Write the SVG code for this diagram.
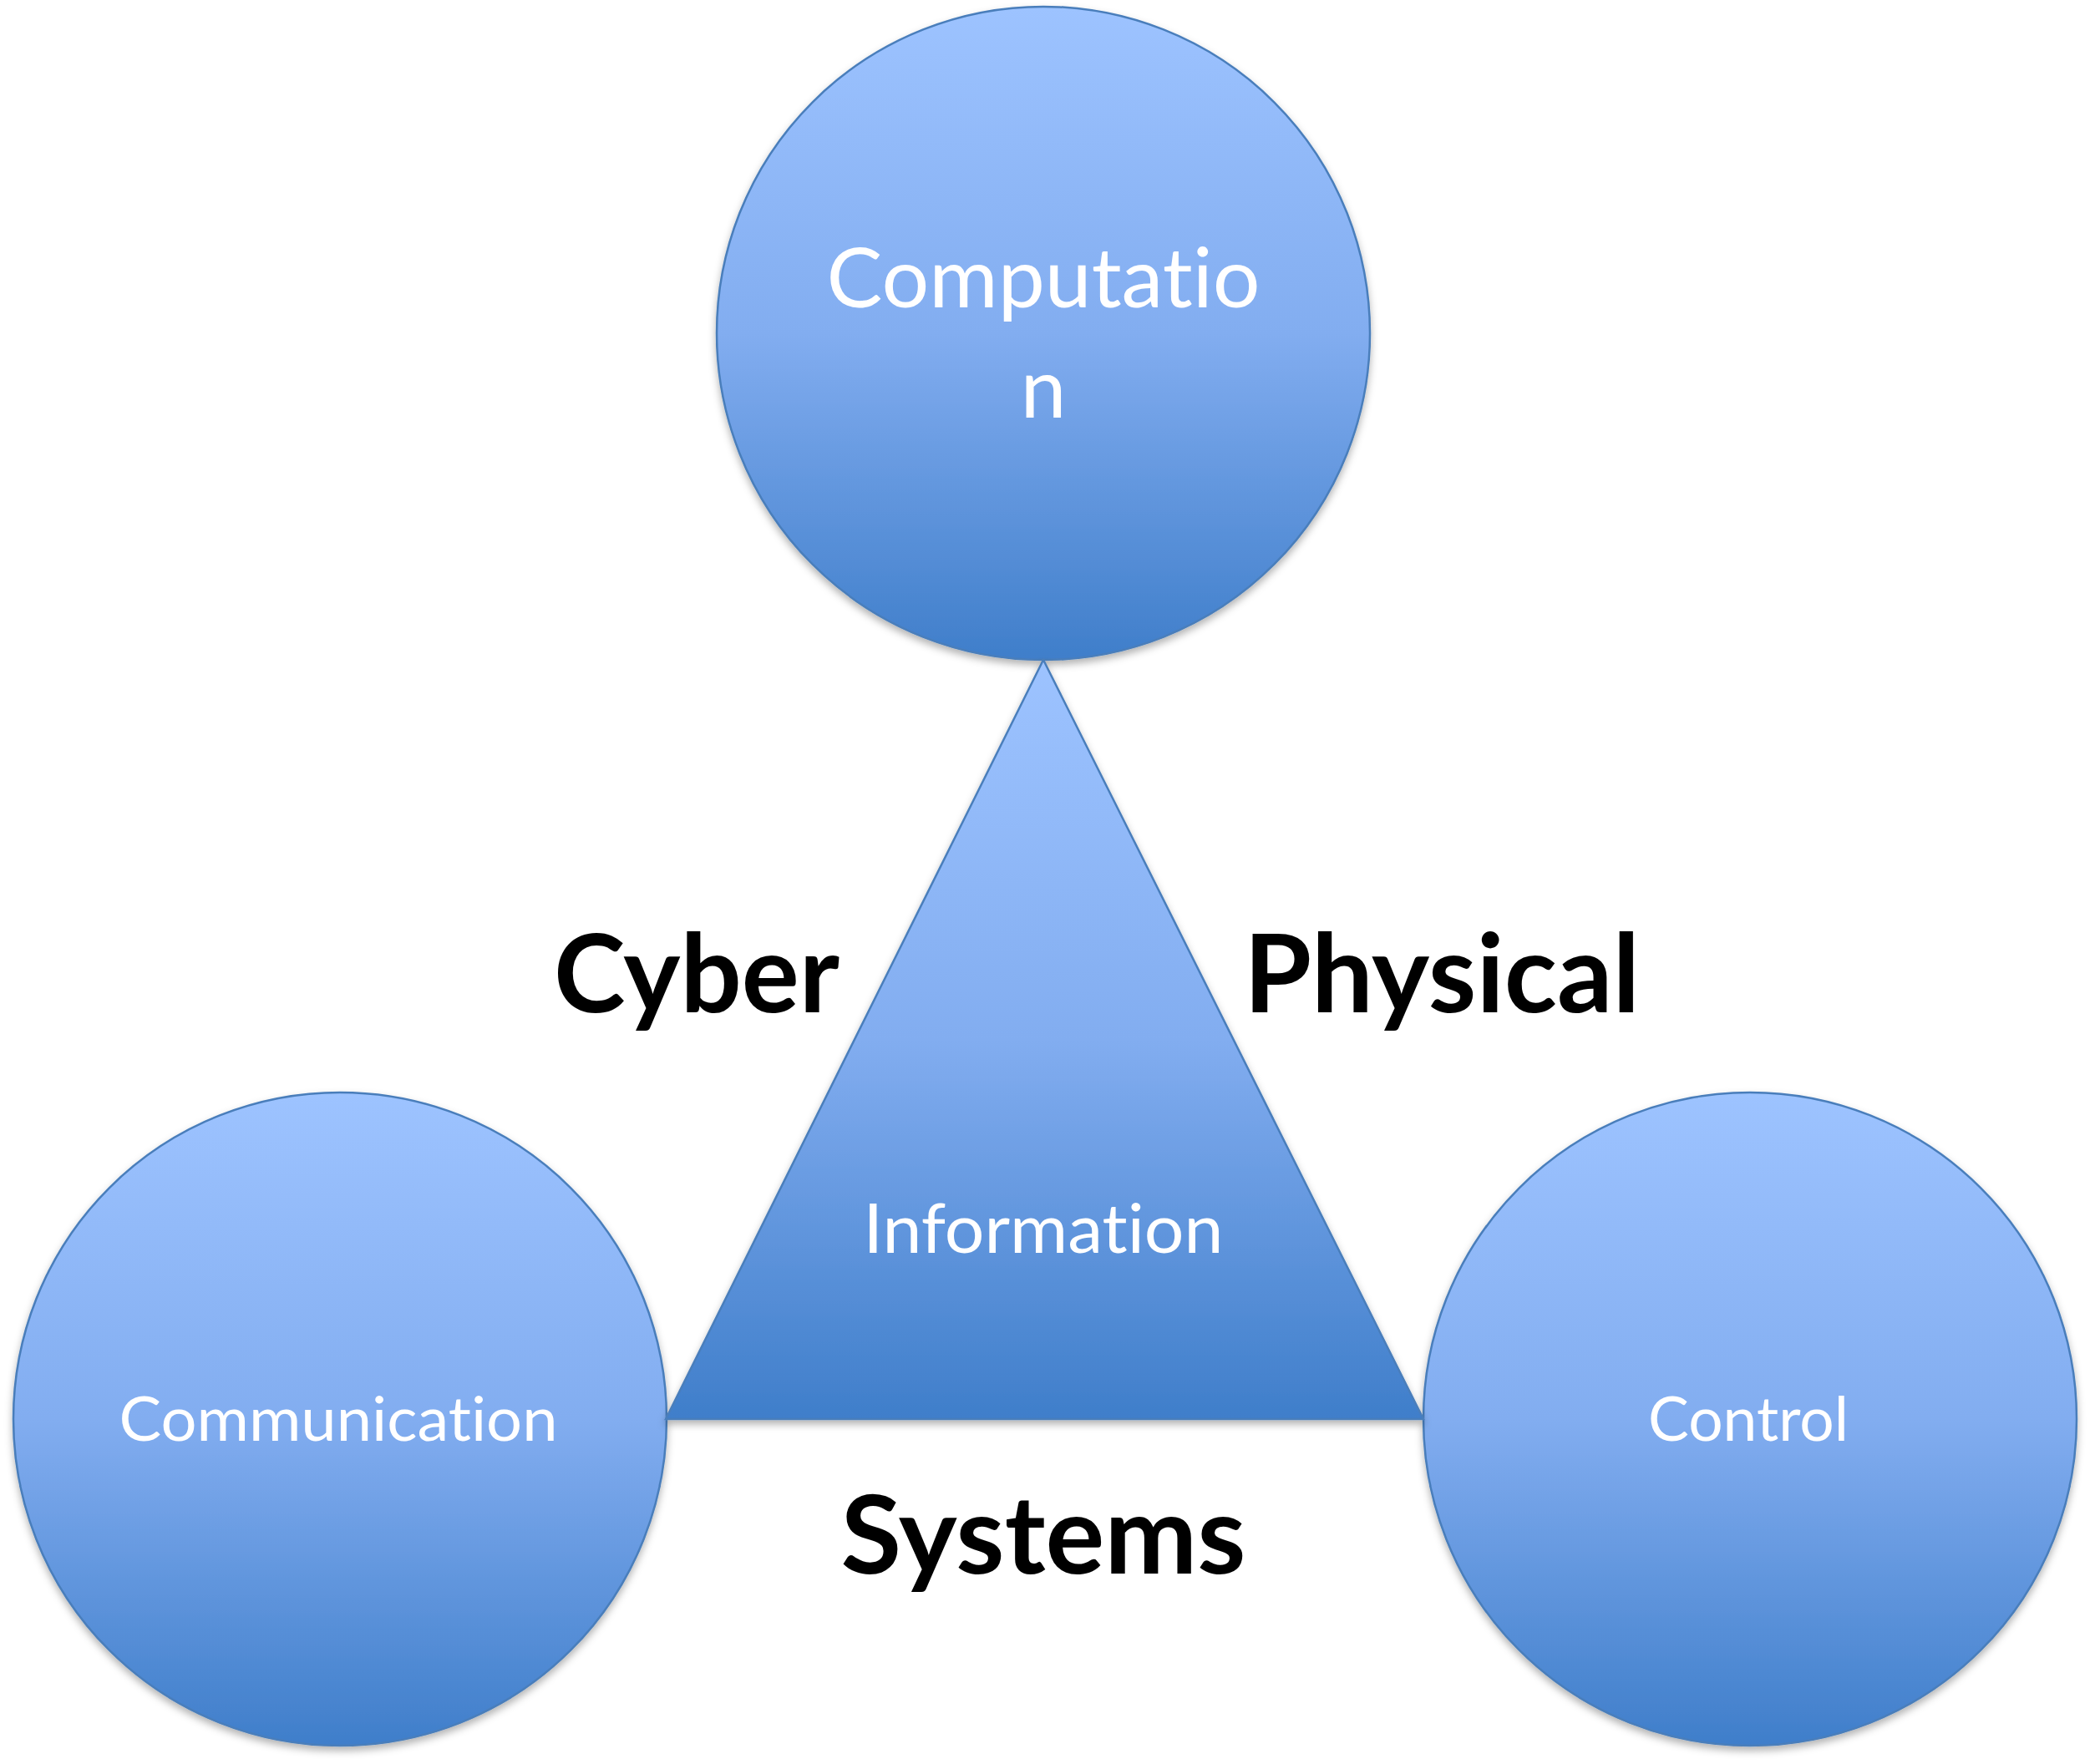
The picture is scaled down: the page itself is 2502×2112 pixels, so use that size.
<svg xmlns="http://www.w3.org/2000/svg" width="2502" height="2112" viewBox="0 0 2502 2112">
<defs>
<linearGradient id="gc" x1="0" y1="0" x2="0" y2="1">
<stop offset="0" stop-color="#9DC3FF"/>
<stop offset="0.5" stop-color="#82ADF0"/>
<stop offset="1" stop-color="#3F7ECA"/>
</linearGradient>
<filter id="sh" x="-10%" y="-10%" width="120%" height="125%">
<feDropShadow dx="0" dy="5" stdDeviation="5" flood-color="#000" flood-opacity="0.3"/>
</filter>
</defs>
<style>
.shape{fill:url(#gc);stroke:#4A7EBB;stroke-width:2.5;filter:url(#sh)}
text{font-variant-ligatures:none;font-feature-settings:"liga" 0,"clig" 0,"dlig" 0}
.lbl{font-family:Lato,"Open Sans","Liberation Sans",sans-serif;fill:#FFFFFF;text-anchor:middle}
.big{font-family:Lato,"Open Sans","Liberation Sans",sans-serif;font-weight:bold;fill:#000000;text-anchor:middle}
</style>
<rect width="2502" height="2112" fill="#FFFFFF"/>
<g id="connectors"></g>
<g id="computation">
<circle class="shape" cx="1249" cy="399" r="391"/>
<text class="lbl" x="1249" y="368" font-size="98" textLength="519" lengthAdjust="spacingAndGlyphs">Computatio</text>
<text class="lbl" x="1249" y="500" font-size="98">n</text>
</g>
<g id="communication">
<circle class="shape" cx="407" cy="1699" r="391"/>
<text class="lbl" x="405" y="1725" font-size="73" textLength="525" lengthAdjust="spacingAndGlyphs">Communication</text>
</g>
<g id="control">
<circle class="shape" cx="2095" cy="1699" r="391"/>
<text class="lbl" x="2093" y="1725" font-size="73" textLength="240" lengthAdjust="spacingAndGlyphs">Control</text>
</g>
<g id="information">
<polygon class="shape" points="1249,790 797,1699 1704,1699"/>
<text class="lbl" x="1249" y="1500" font-size="81" textLength="431" lengthAdjust="spacingAndGlyphs">Information</text>
</g>
<g id="labels">
<text class="big" x="834" y="1212" font-size="131" textLength="342" lengthAdjust="spacingAndGlyphs">Cyber</text>
<text class="big" x="1726" y="1212" font-size="131" textLength="474" lengthAdjust="spacingAndGlyphs">Physical</text>
<text class="big" x="1249" y="1884" font-size="131" textLength="485" lengthAdjust="spacingAndGlyphs">Systems</text>
</g>
</svg>
